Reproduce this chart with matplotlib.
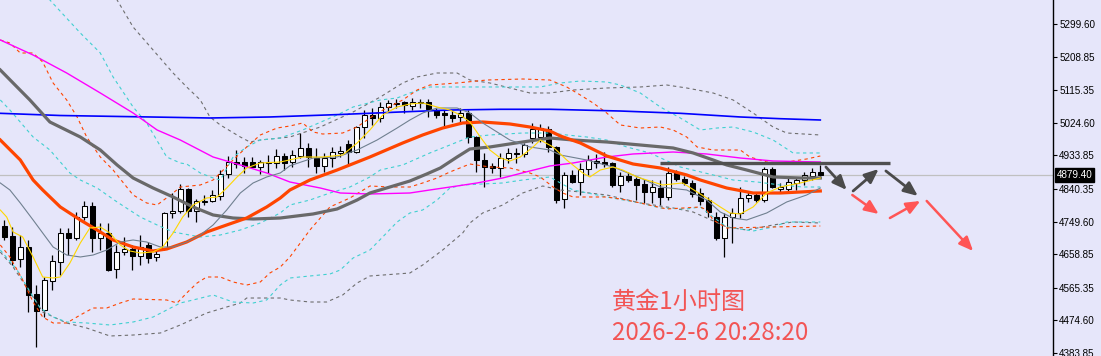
import matplotlib
matplotlib.use("Agg")
import matplotlib.pyplot as plt
from matplotlib.transforms import blended_transform_factory

# ---------------- data ----------------
opens = [4737.4, 4709.5, 4645.5, 4678.9, 4548.1, 4503.5, 4584.3, 4637.2, 4717.9, 4704.0,
         4762.4, 4793.0, 4704.0, 4717.9, 4617.7, 4665.0, 4673.3, 4653.9, 4684.5, 4651.1,
         4676.1, 4773.6, 4779.1, 4840.4, 4779.1, 4804.2, 4807.0, 4820.9, 4882.1, 4915.5,
         4915.5, 4915.5, 4901.6, 4912.7, 4912.7, 4932.2, 4915.5, 4932.2, 4954.5, 4926.6,
         4904.4, 4926.6, 4940.6, 4965.6, 4943.3, 5012.9, 5046.3, 5038.0, 5068.6, 5076.9,
         5082.5, 5071.4, 5082.5, 5082.5, 5060.2, 5051.9, 5046.3, 5040.8, 5051.9, 4985.1,
         4921.1, 4904.4, 4898.8, 4926.6, 4940.6, 4937.8, 4982.3, 4985.1, 5007.4, 4957.3,
         4812.5, 4879.4, 4859.8, 4896.0, 4918.3, 4915.5, 4912.7, 4851.5, 4876.5, 4868.2,
         4854.3, 4832.0, 4843.1, 4818.1, 4887.7, 4868.2, 4857.1, 4829.2, 4809.7, 4762.4,
         4704.0, 4762.4, 4773.6, 4815.3, 4823.7, 4809.7, 4896.0, 4840.4, 4840.4, 4857.1,
         4865.4, 4876.5, 4887.7]
highs = [4754.1, 4734.6, 4712.3, 4698.4, 4573.1, 4595.4, 4656.6, 4731.8, 4731.8, 4776.3,
         4807.0, 4804.2, 4745.7, 4745.7, 4684.5, 4706.8, 4684.5, 4712.3, 4692.8, 4670.5,
         4776.3, 4829.2, 4854.3, 4843.1, 4812.5, 4823.7, 4837.6, 4893.2, 4932.2, 4948.9,
         4929.4, 4929.4, 4921.1, 4935.0, 4951.7, 4940.6, 4948.9, 4996.2, 4968.4, 4954.5,
         4940.6, 4957.3, 4960.0, 4976.7, 5015.7, 5060.2, 5065.8, 5082.5, 5088.1, 5090.8,
         5085.3, 5093.6, 5090.8, 5090.8, 5065.8, 5060.2, 5060.2, 5065.8, 5060.2, 4987.9,
         4940.6, 4912.7, 4940.6, 4954.5, 4954.5, 4968.4, 5024.1, 5021.3, 5015.7, 4960.0,
         4887.7, 4893.2, 4912.7, 4935.0, 4937.8, 4943.3, 4915.5, 4887.7, 4887.7, 4873.8,
         4868.2, 4865.4, 4865.4, 4901.6, 4893.2, 4876.5, 4865.4, 4843.1, 4818.1, 4776.3,
         4773.6, 4787.5, 4845.9, 4832.0, 4832.0, 4901.6, 4901.6, 4857.1, 4871.0, 4873.8,
         4887.7, 4898.8, 4907.2]
lows = [4698.4, 4628.8, 4623.2, 4498.0, 4400.6, 4484.0, 4559.2, 4601.0, 4656.6, 4698.4,
        4754.1, 4665.0, 4670.5, 4612.1, 4592.6, 4656.6, 4614.9, 4628.8, 4634.4, 4639.9,
        4670.5, 4759.6, 4773.6, 4762.4, 4748.5, 4795.8, 4804.2, 4809.7, 4871.0, 4898.8,
        4884.9, 4898.8, 4882.1, 4884.9, 4898.8, 4893.2, 4901.6, 4926.6, 4901.6, 4884.9,
        4887.7, 4901.6, 4929.4, 4909.9, 4940.6, 4982.3, 5018.5, 5026.8, 5054.7, 5065.8,
        5051.9, 5060.2, 5065.8, 5040.8, 5038.0, 5012.9, 5026.8, 5026.8, 4968.4, 4887.7,
        4845.9, 4884.9, 4873.8, 4912.7, 4912.7, 4929.4, 4968.4, 4971.2, 4943.3, 4801.4,
        4787.5, 4857.1, 4823.7, 4879.4, 4898.8, 4901.6, 4845.9, 4832.0, 4859.8, 4809.7,
        4801.4, 4801.4, 4795.8, 4809.7, 4862.6, 4851.5, 4818.1, 4795.8, 4762.4, 4698.4,
        4651.1, 4690.0, 4759.6, 4804.2, 4804.2, 4804.2, 4843.1, 4829.2, 4829.2, 4837.6,
        4851.5, 4865.4, 4876.5]
closes = [4706.8, 4642.7, 4678.9, 4545.3, 4500.8, 4587.0, 4639.9, 4717.9, 4704.0, 4762.4,
          4793.0, 4704.0, 4717.9, 4614.9, 4665.0, 4673.3, 4653.9, 4678.9, 4648.3, 4659.4,
          4773.6, 4779.1, 4840.4, 4779.1, 4807.0, 4807.0, 4823.7, 4882.1, 4915.5, 4909.9,
          4904.4, 4901.6, 4915.5, 4915.5, 4932.2, 4912.7, 4935.0, 4954.5, 4929.4, 4904.4,
          4926.6, 4943.3, 4946.1, 4943.3, 5012.9, 5046.3, 5038.0, 5068.6, 5079.7, 5079.7,
          5074.2, 5082.5, 5079.7, 5063.0, 5046.3, 5046.3, 5038.0, 5051.9, 4985.1, 4921.1,
          4901.6, 4898.8, 4926.6, 4940.6, 4937.8, 4962.8, 5007.4, 5010.1, 4957.3, 4809.7,
          4879.4, 4859.8, 4896.0, 4921.1, 4912.7, 4909.9, 4851.5, 4876.5, 4865.4, 4851.5,
          4832.0, 4845.9, 4818.1, 4884.9, 4868.2, 4857.1, 4826.4, 4807.0, 4776.3, 4704.0,
          4762.4, 4773.6, 4815.3, 4823.7, 4809.7, 4896.0, 4845.9, 4845.9, 4859.8, 4865.4,
          4879.4, 4887.7, 4879.4]

# moving averages (bar position, price)
blue_x = [-0.5, 7.0, 18.2, 25.7, 33.2, 42.0, 49.5, 55.7, 62.0, 68.2, 77.0, 84.5, 92.0, 97.0, 102.0]
blue_y = [5051.0, 5044.9, 5040.8, 5038.0, 5040.8, 5047.7, 5054.7, 5060.2, 5062.2, 5062.2,
          5057.4, 5051.0, 5040.8, 5036.0, 5032.4]

magenta_x = [-0.5, 3.6, 7.8, 12.0, 16.1, 19.1, 22.0, 26.1, 29.5, 32.8, 35.7, 39.5, 42.0, 45.7,
             50.7, 53.2, 56.6, 59.1, 62.3, 65.7, 68.2, 71.1, 75.3, 78.6, 83.6, 87.8, 92.0, 96.1, 102.0]
magenta_y = [5255.1, 5213.3, 5163.2, 5107.6, 5051.9, 5004.6, 4976.7, 4929.4, 4907.2, 4884.9,
             4859.8, 4843.1, 4829.2, 4826.4, 4829.2, 4837.6, 4848.7, 4857.1, 4871.0, 4890.5,
             4904.4, 4912.7, 4929.4, 4937.8, 4943.3, 4937.8, 4926.6, 4918.3, 4915.5]

dgrey_x = [-0.5, 1.1, 3.2, 5.7, 9.5, 12.0, 14.1, 16.1, 18.6, 21.1, 23.6, 26.1, 28.6, 31.1, 34.5,
           38.6, 41.6, 44.1, 45.7, 48.2, 50.7, 52.8, 54.5, 56.6, 58.2, 60.7, 64.8, 68.2, 71.1,
           75.3, 79.5, 83.6, 86.1, 88.6, 90.3, 92.8, 96.1, 99.5, 102.0]
dgrey_y = [5171.6, 5135.4, 5088.1, 5026.8, 4985.1, 4948.9, 4907.2, 4871.0, 4843.1, 4818.1,
           4790.3, 4768.0, 4759.6, 4756.8, 4759.6, 4770.8, 4784.7, 4809.7, 4829.2, 4845.9,
           4862.6, 4882.1, 4898.8, 4929.4, 4951.7, 4957.3, 4971.2, 4982.3, 4976.7, 4971.2,
           4962.8, 4954.5, 4940.6, 4921.1, 4907.2, 4893.2, 4873.8, 4871.0, 4871.0]

orange_x = [-0.5, 2.0, 3.6, 4.8, 7.0, 9.5, 11.6, 13.6, 16.1, 18.6, 20.3, 22.8, 25.3, 27.8, 30.3,
            32.8, 34.5, 35.7, 38.2, 41.6, 45.7, 49.8, 52.3, 54.8, 57.3, 59.8, 63.2, 65.7, 68.2,
            69.5, 72.0, 75.3, 78.6, 82.0, 85.3, 87.0, 90.3, 93.6, 97.0, 99.5, 102.0]
orange_y = [4976.7, 4921.1, 4865.4, 4837.6, 4790.3, 4754.1, 4726.2, 4698.4, 4678.9, 4667.8,
            4673.3, 4692.8, 4720.7, 4740.2, 4759.6, 4790.3, 4815.3, 4837.6, 4865.4, 4893.2,
            4929.4, 4968.4, 4990.7, 5010.1, 5024.1, 5026.8, 5021.3, 5012.9, 5001.8, 4987.9,
            4968.4, 4932.2, 4909.9, 4898.8, 4879.4, 4865.4, 4843.1, 4829.2, 4829.2, 4832.0, 4834.8]

slate_x = [-0.5, 0.7, 2.0, 3.6, 4.8, 6.1, 7.8, 9.5, 11.1, 12.8, 14.5, 16.1, 17.8, 19.5, 21.1,
           22.8, 24.5, 26.1, 27.8, 29.5, 31.1, 32.8, 34.5, 35.7, 38.6, 41.6, 44.1, 46.6, 49.1,
           50.7, 52.3, 54.1, 56.6, 58.2, 59.8, 61.6, 63.2, 65.7, 68.2, 69.5, 72.8, 76.1, 79.5,
           82.0, 85.3, 87.8, 89.5, 91.1, 92.8, 95.3, 97.8, 100.3, 102.0]
slate_y = [4857.1, 4837.6, 4801.4, 4754.1, 4717.9, 4678.9, 4656.6, 4651.1, 4656.6, 4670.5,
           4692.8, 4698.4, 4692.8, 4678.9, 4678.9, 4692.8, 4712.3, 4740.2, 4781.9, 4829.2,
           4857.1, 4873.8, 4885.0, 4905.0, 4926.6, 4929.4, 4948.9, 4976.7, 5010.1, 5032.4,
           5051.9, 5065.8, 5065.8, 5051.9, 5024.1, 4999.0, 4976.7, 4957.3, 4948.9, 4935.0,
           4921.1, 4901.6, 4871.0, 4845.9, 4837.6, 4809.7, 4776.3, 4759.6, 4754.1, 4773.6,
           4804.2, 4823.7, 4843.1]

yellow_x = [-0.5, 0.3, 1.1, 2.3, 3.6, 4.8, 6.1, 7.0, 8.2, 9.5, 10.7, 12.0, 13.2, 14.5, 15.7,
            17.0, 18.6, 19.8, 21.1, 22.3, 23.6, 25.3, 26.6, 27.8, 29.1, 30.3, 32.0, 34.5, 37.3,
            39.8, 42.3, 44.1, 45.7, 47.3, 49.1, 50.7, 52.3, 54.1, 55.7, 57.0, 58.2, 59.5, 60.7,
            62.0, 63.2, 64.5, 66.1, 67.0, 68.6, 70.3, 72.3, 73.2, 74.5, 76.1, 77.3, 79.1, 82.3,
            84.8, 87.8, 89.5, 90.7, 92.0, 93.6, 95.3, 97.0, 99.5, 102.0]
yellow_y = [4781.9, 4762.4, 4720.7, 4706.8, 4651.1, 4595.4, 4592.6, 4595.4, 4634.4, 4690.0,
            4731.8, 4734.6, 4717.9, 4684.5, 4667.8, 4662.2, 4665.0, 4678.9, 4717.9, 4762.4,
            4795.8, 4815.3, 4818.1, 4843.1, 4873.8, 4898.8, 4912.7, 4915.5, 4929.4, 4929.4,
            4935.0, 4968.4, 5004.6, 5046.3, 5068.6, 5076.9, 5079.7, 5068.6, 5060.2, 5046.3,
            5026.8, 4985.1, 4948.9, 4926.6, 4918.3, 4929.4, 4957.3, 4976.7, 4957.3, 4921.1,
            4884.9, 4873.8, 4893.2, 4901.6, 4893.2, 4873.8, 4851.5, 4857.1, 4815.3, 4790.3,
            4773.6, 4770.8, 4790.3, 4829.2, 4845.9, 4857.1, 4871.0]

# bands (dashed)
ob_up_x = [-0.5, 0.7, 2.0, 3.6, 4.8, 6.1, 7.8, 9.1, 10.3, 12.0, 13.6, 15.3, 16.1, 17.8, 19.1,
           21.1, 22.0, 24.5, 26.1, 27.0, 28.6, 30.3, 32.0, 34.1, 35.7, 37.3, 38.6, 39.8, 42.3,
           44.1, 46.6, 49.8, 51.6, 53.2, 56.6, 60.3, 64.8, 68.2, 70.3, 72.0, 73.6, 75.3, 77.0,
           79.5, 82.0, 83.6, 85.3, 86.6, 88.6, 92.0, 93.2, 95.3, 97.0, 100.3, 102.0]
ob_up_y = [5255.1, 5246.7, 5218.9, 5218.9, 5193.8, 5135.4, 5088.1, 5040.8, 4985.1, 4929.4,
           4893.2, 4845.9, 4823.7, 4801.4, 4795.8, 4829.2, 4845.9, 4851.5, 4865.4, 4884.9,
           4921.1, 4957.3, 4990.7, 5010.1, 5015.7, 5024.1, 4999.0, 4993.4, 4996.2, 5012.9,
           5051.9, 5088.1, 5115.9, 5129.8, 5135.4, 5143.7, 5146.5, 5143.7, 5124.3, 5102.0,
           5079.7, 5051.9, 5018.5, 5010.1, 5012.9, 5004.6, 4985.1, 4957.3, 4948.9, 4948.9,
           4929.4, 4915.5, 4912.7, 4923.9, 4932.2]
ob_lo_x = [-0.5, 0.7, 2.3, 3.6, 4.8, 6.1, 7.8, 9.5, 11.1, 12.8, 14.5, 16.1, 20.3, 21.6, 22.8,
           24.1, 25.3, 27.0, 28.6, 30.3, 32.0, 33.2, 34.5, 35.7, 38.2, 40.7, 43.2, 45.7, 48.2,
           50.7, 52.3, 54.1, 55.7, 58.2, 60.7, 63.2, 65.7, 67.0, 68.6, 69.8, 71.1, 75.3, 77.8,
           79.5, 82.8, 87.0, 87.8, 88.6, 90.3, 96.1, 102.0]
ob_lo_y = [4684.5, 4651.1, 4587.0, 4525.8, 4484.0, 4467.4, 4467.4, 4489.6, 4509.1, 4509.1,
           4523.0, 4534.2, 4531.4, 4523.0, 4550.9, 4578.7, 4595.4, 4595.4, 4581.5, 4573.1,
           4581.5, 4606.5, 4623.2, 4651.1, 4726.2, 4790.3, 4815.3, 4848.7, 4845.9, 4845.9,
           4857.1, 4871.0, 4887.7, 4909.9, 4901.6, 4898.8, 4884.9, 4873.8, 4845.9, 4829.2,
           4818.1, 4818.1, 4809.7, 4801.4, 4784.7, 4790.3, 4781.9, 4754.1, 4731.8, 4734.6, 4737.4]

cb_up_x = [-0.5, 5.7, 9.5, 12.0, 13.6, 16.1, 17.8, 20.3, 22.0, 22.8, 24.5, 26.1, 27.0, 28.6,
           30.3, 32.0, 34.5, 37.3, 41.6, 43.6, 47.0, 49.1, 50.7, 53.2, 56.6, 62.3, 67.0, 69.5,
           72.0, 75.3, 77.0, 79.5, 82.0, 84.5, 87.0, 89.1, 91.1, 93.6, 96.1, 98.6, 102.0]
cb_up_y = [5519.5, 5366.4, 5274.6, 5218.9, 5152.1, 5068.6, 5024.1, 4929.4, 4912.7, 4909.9,
           4884.9, 4871.0, 4865.4, 4929.4, 4957.3, 4976.7, 4982.3, 5004.6, 5046.3, 5068.6,
           5088.1, 5093.6, 5107.6, 5124.3, 5124.3, 5124.3, 5124.3, 5135.4, 5140.9, 5138.2,
           5129.8, 5107.6, 5068.6, 5038.0, 5004.6, 5010.1, 5012.9, 4999.0, 4976.7, 4940.6, 4940.6]
cb_mid_x = [-0.5, 0.7, 3.6, 5.7, 8.2, 9.5, 11.6, 14.1, 17.0, 19.1, 21.1, 24.5, 27.0, 29.5, 32.0,
            34.5, 35.7, 38.2, 40.7, 43.2, 45.7, 47.0, 49.8, 53.2, 55.7, 58.2, 60.7, 64.8, 68.2,
            70.3, 72.8, 75.3, 77.8, 80.7, 84.5, 88.6, 91.1, 94.1, 97.0, 99.8, 102.0]
cb_mid_y = [5088.1, 5060.2, 4985.1, 4948.9, 4884.9, 4865.4, 4843.1, 4804.2, 4762.4, 4740.2,
            4720.7, 4706.8, 4712.3, 4726.2, 4745.7, 4773.6, 4795.8, 4809.7, 4829.2, 4845.9,
            4873.8, 4893.2, 4907.2, 4940.6, 4962.8, 4985.1, 4990.7, 4996.2, 4996.2, 4990.7,
            4985.1, 4976.7, 4957.3, 4940.6, 4901.6, 4879.4, 4865.4, 4859.8, 4851.5, 4845.9, 4845.9]
cb_lo_x = [-0.5, 1.6, 3.6, 4.5, 6.1, 7.8, 10.3, 13.2, 16.1, 18.6, 20.3, 22.0, 23.6, 26.1, 28.6,
           31.1, 32.8, 34.5, 35.7, 38.2, 40.7, 42.0, 43.6, 45.7, 47.3, 49.1, 50.7, 52.3, 54.1,
           55.7, 57.3, 59.8, 62.3, 64.8, 68.2, 69.5, 71.1, 75.3, 79.5, 82.0, 85.3, 87.0, 88.6,
           90.3, 93.6, 96.1, 97.8, 102.0]
cb_lo_y = [4670.5, 4614.9, 4539.7, 4509.1, 4484.0, 4470.1, 4467.4, 4461.8, 4470.1, 4484.0,
           4503.5, 4523.0, 4531.4, 4545.3, 4525.8, 4523.0, 4531.4, 4573.1, 4592.6, 4598.2,
           4603.7, 4614.9, 4648.3, 4670.5, 4706.8, 4748.5, 4773.6, 4781.9, 4809.7, 4843.1,
           4851.5, 4854.3, 4857.1, 4865.4, 4873.8, 4857.1, 4837.6, 4818.1, 4801.4, 4787.5,
           4784.7, 4790.3, 4762.4, 4734.6, 4723.4, 4734.6, 4748.5, 4748.5]

gb_up_x = [10.7, 14.1, 16.1, 18.6, 21.1, 22.8, 24.5, 25.7, 27.0, 29.5, 30.7, 32.0, 34.5, 35.7,
           39.5, 43.6, 47.0, 49.8, 51.6, 54.1, 56.6, 58.2, 60.7, 63.2, 65.7, 68.2, 71.1, 75.3,
           79.5, 82.8, 85.3, 88.6, 91.1, 93.6, 96.1, 97.8, 102.0]
gb_up_y = [5491.7, 5366.4, 5291.2, 5227.2, 5163.2, 5124.3, 5088.1, 5040.8, 5018.5, 4985.1,
           4971.2, 4976.7, 4982.3, 4985.1, 5012.9, 5054.7, 5096.4, 5135.4, 5152.1, 5163.2,
           5163.2, 5143.7, 5135.4, 5121.5, 5107.6, 5107.6, 5115.9, 5121.5, 5124.3, 5129.8,
           5121.5, 5107.6, 5088.1, 5051.9, 5012.9, 4996.2, 4990.7]
gb_lo_x = [-0.5, 1.1, 3.6, 4.8, 7.8, 10.3, 13.2, 16.1, 19.5, 22.0, 25.3, 27.8, 29.5, 30.3, 34.5,
           35.7, 38.2, 40.3, 42.3, 44.1, 45.7, 50.7, 52.3, 54.8, 57.3, 58.2, 59.8, 62.3, 64.8,
           67.3, 69.5, 72.0, 75.3, 79.5, 83.6, 86.1, 87.8, 90.3, 92.8, 96.1, 98.6, 102.0]
gb_lo_y = [4665.0, 4623.2, 4539.7, 4498.0, 4467.4, 4453.4, 4431.2, 4433.9, 4439.5, 4461.8,
           4495.2, 4511.9, 4523.0, 4536.9, 4536.9, 4531.4, 4525.8, 4525.8, 4545.3, 4578.7,
           4598.2, 4606.5, 4628.8, 4670.5, 4717.9, 4745.7, 4773.6, 4795.8, 4829.2, 4848.7,
           4837.6, 4832.0, 4823.7, 4801.4, 4787.5, 4776.3, 4759.6, 4734.6, 4726.2, 4740.2,
           4748.5, 4745.7]

# resistance level and projected path arrows
resist_level = 4912.7
resist_span = (82.0, 110.7)
dark_arrows = [((102.7, 4901.6), (105.3, 4837.6)),
               ((106.1, 4834.8), (109.3, 4896.0)),
               ((110.2, 4890.5), (114.2, 4820.9))]
red_arrows = [((106.0, 4823.7), (109.3, 4770.8)),
              ((110.7, 4759.6), (114.5, 4807.0)),
              ((115.3, 4807.0), (121.1, 4667.8))]

last_price = 4879.40
ytick_vals = [5299.60, 5208.85, 5115.35, 5024.60, 4933.85, 4840.35, 4749.60,
              4658.85, 4565.35, 4474.60, 4383.85]
title_txt = "黄金1小时图"
time_txt = "2026-2-6 20:28:20"

# ---------------- drawing ----------------
BG = "#E6E6FA"
W, H = 1101, 356
fig = plt.figure(figsize=(W / 100, H / 100), dpi=100, facecolor=BG)
ax = fig.add_axes([0, 0, 1053 / W, 1], facecolor=BG)

n = len(closes)
xs = list(range(n))

# wicks
ax.vlines(xs, lows, highs, color="black", lw=0.9, zorder=2)
# bodies
bottoms = [min(o, c) for o, c in zip(opens, closes)]
heights = [max(abs(c - o), 0.6) for o, c in zip(opens, closes)]
colors = ["white" if c >= o else "black" for o, c in zip(opens, closes)]
ax.bar(xs, heights, bottom=bottoms, width=0.62, color=colors,
       edgecolor="black", linewidth=0.75, zorder=3)

dash = (0, (3, 3))
ax.plot(gb_up_x, gb_up_y, color="#6E6E6E", lw=0.8, ls=dash, zorder=4)
ax.plot(gb_lo_x, gb_lo_y, color="#6E6E6E", lw=0.8, ls=dash, zorder=4)
ax.plot(cb_up_x, cb_up_y, color="#40D0D0", lw=0.8, ls=dash, zorder=4)
ax.plot(cb_mid_x, cb_mid_y, color="#40D0D0", lw=0.8, ls=dash, zorder=4)
ax.plot(cb_lo_x, cb_lo_y, color="#40D0D0", lw=0.8, ls=dash, zorder=4)
ax.plot(ob_up_x, ob_up_y, color="#FF4500", lw=0.8, ls=dash, zorder=4)
ax.plot(ob_lo_x, ob_lo_y, color="#FF4500", lw=0.8, ls=dash, zorder=4)

ax.plot(blue_x, blue_y, color="#0000FF", lw=1.2, zorder=5)
ax.plot(magenta_x, magenta_y, color="#FF00FF", lw=1.0, zorder=5)
ax.plot(dgrey_x, dgrey_y, color="#696969", lw=2.3, zorder=5)
ax.plot(orange_x, orange_y, color="#FF4500", lw=2.3, zorder=5)
ax.plot(slate_x, slate_y, color="#708090", lw=0.8, zorder=5)
ax.plot(yellow_x, yellow_y, color="#FFD700", lw=0.8, zorder=5)

# current price line
ax.axhline(last_price, color="#C0C0C0", lw=0.9, zorder=1)

# resistance
ax.plot(list(resist_span), [resist_level, resist_level], color="#505050", lw=2.4,
        solid_capstyle="butt", zorder=6)

for (x0, y0), (x1, y1) in dark_arrows:
    ax.annotate("", xy=(x1, y1), xytext=(x0, y0),
                arrowprops=dict(arrowstyle="-|>,head_length=0.7,head_width=0.3",
                                color="#4A4A4A", lw=2.0, shrinkA=0, shrinkB=0,
                                mutation_scale=12), zorder=7)
for (x0, y0), (x1, y1) in red_arrows:
    ax.annotate("", xy=(x1, y1), xytext=(x0, y0),
                arrowprops=dict(arrowstyle="-|>,head_length=0.7,head_width=0.3",
                                color="#FF5555", lw=1.8, shrinkA=0, shrinkB=0,
                                mutation_scale=12), zorder=7)

ax.set_xlim(-4.3 / 8, (1053 - 4.3) / 8)
ax.set_ylim(4375.5, 5366.4)

for s in ["top", "left", "bottom"]:
    ax.spines[s].set_visible(False)
ax.spines["right"].set_color("black")
ax.spines["right"].set_linewidth(1.0)
ax.set_xticks([])
ax.yaxis.tick_right()
ax.set_yticks(ytick_vals)
ax.set_yticklabels([f"{v:.2f}" for v in ytick_vals], fontfamily="Liberation Sans")
ax.tick_params(axis="y", direction="out", length=3, width=0.8, pad=1.5,
               labelsize=7.1, colors="black")

trans = blended_transform_factory(ax.transAxes, ax.transData)
ax.text(1.0035, last_price, f"{last_price:.2f}", transform=trans, ha="left", va="center",
        color="white", fontsize=7.1, fontfamily="Liberation Sans",
        bbox=dict(facecolor="black", edgecolor="black", pad=1.4), zorder=10, clip_on=False)

fig.text(612 / W, 1 - 302 / H, title_txt, color="#F25555", fontsize=17.4,
         fontfamily=["Noto Sans CJK SC", "DejaVu Sans"], ha="left", va="center")
fig.text(612 / W, 1 - 333 / H, time_txt, color="#F25555", fontsize=17.4,
         fontfamily=["Noto Sans CJK SC", "DejaVu Sans"], ha="left", va="center")

fig.savefig("out.png", dpi=100, facecolor=BG)
